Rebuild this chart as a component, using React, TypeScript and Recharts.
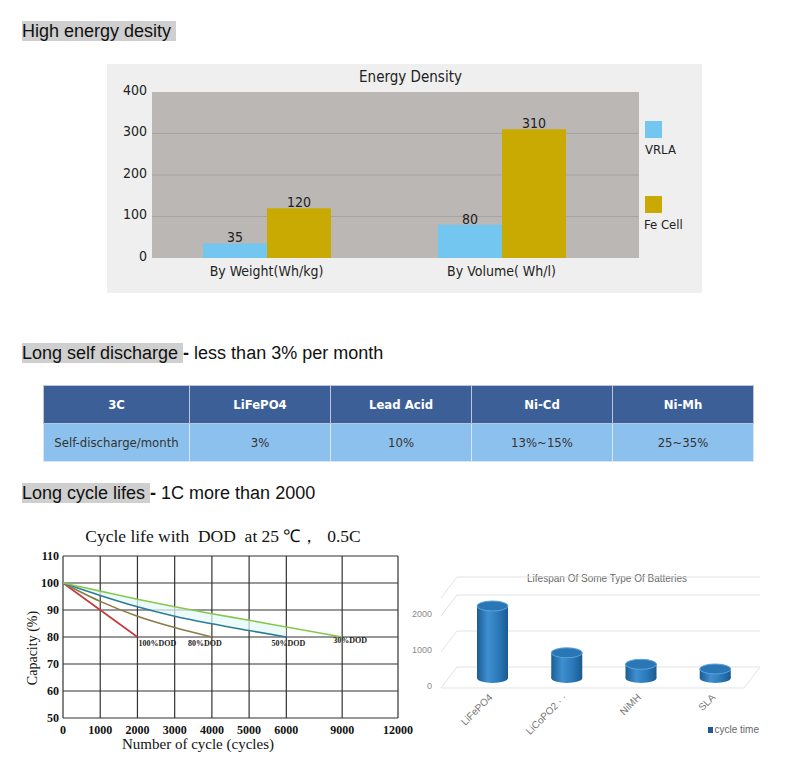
import React from 'react'
import {
  BarChart, Bar, ComposedChart, Line, Area, XAxis, YAxis, CartesianGrid, LabelList
} from 'recharts'

// energy density
const ENERGY_CATEGORIES = ['By Weight(Wh/kg)', 'By Volume( Wh/l)']
const VRLA_VALUES = [35, 80]
const FE_CELL_VALUES = [120, 310]
const ENERGY_TICKS = [0, 100, 200, 300, 400]

// self discharge table
const TABLE_HEAD = ['3C', 'LiFePO4', 'Lead Acid', 'Ni-Cd', 'Ni-Mh']
const TABLE_ROW = ['Self-discharge/month', '3%', '10%', '13%~15%', '25~35%']

// cycle life with DOD
const CYCLE_TICKS = [0, 1000, 2000, 3000, 4000, 5000, 6000, 9000, 12000]
const CAPACITY_TICKS = [50, 60, 70, 80, 90, 100, 110]
const DOD_LABELS = ['100%DOD', '80%DOD', '50%DOD', '30%DOD']
const DOD100_CYCLES = [0, 500, 1000, 1500, 2000]
const DOD100_CAPACITY = [100, 95, 90, 85, 80]
const DOD80_CYCLES = [0, 1000, 2000, 3000, 4000]
const DOD80_CAPACITY = [100, 93.2, 87.7, 83.5, 80]
const DOD50_CYCLES = [0, 1000, 2000, 3000, 4000, 5000, 6000]
const DOD50_CAPACITY = [100, 95.4, 91.2, 87.7, 84.9, 82.4, 80]
const DOD30_CYCLES = [0, 1000, 2000, 3000, 4000, 5000, 6000, 9000]
const DOD30_CAPACITY = [100, 97, 94, 91.2, 88.6, 86.2, 83.7, 80]

// lifespan
const BATTERIES = ['LiFePO4', 'LiCoPO2 · ·', 'NiMH', 'SLA']
const CYCLE_TIME = [2000, 700, 380, 250]
const LIFESPAN_TICKS = [0, 1000, 2000]

const CONDENSED = "'DejaVu Sans Condensed', 'DejaVu Sans', sans-serif"
const SERIF = "'Liberation Serif', 'Times New Roman', serif"
const ARIAL = "'Liberation Sans', Arial, sans-serif"

const energyData = ENERGY_CATEGORIES.map((name, i) => ({
  name, vrla: VRLA_VALUES[i], fe: FE_CELL_VALUES[i],
}))
const energySeries = [
  { key: 'vrla', name: 'VRLA', color: '#72c6ef' },
  { key: 'fe', name: 'Fe Cell', color: '#c9aa02' },
]

// the cycle axis is stretched: 0-6000 in steps of 1000, then 9000 and 12000 at 1.5 steps each
const xPos = (c: number) => (c <= 6000 ? c / 1000 : 6 + (c - 6000) / 2000)
const cycleTickPos = CYCLE_TICKS.map(xPos)
const toPoints = (cycles: number[], caps: number[]) =>
  cycles.map((c, i) => ({ x: xPos(c), cap: caps[i] }))

const dodSeries = [
  { data: toPoints(DOD100_CYCLES, DOD100_CAPACITY), color: '#c43a3a', label: DOD_LABELS[0], dx: 1, dy: 9, anchor: 'start' },
  { data: toPoints(DOD80_CYCLES, DOD80_CAPACITY), color: '#8a7b44', label: DOD_LABELS[1], dx: -7, dy: 9, anchor: 'middle' },
  { data: toPoints(DOD50_CYCLES, DOD50_CAPACITY), color: '#2c7b97', label: DOD_LABELS[2], dx: 2, dy: 9, anchor: 'middle' },
  { data: toPoints(DOD30_CYCLES, DOD30_CAPACITY), color: '#86c84f', label: DOD_LABELS[3], dx: 8, dy: 6, anchor: 'middle' },
]
// pale tint between the 50% and 30% curves (same cycle points up to 6000)
const bandData = DOD50_CYCLES.map((c, i) => ({ x: xPos(c), range: [DOD50_CAPACITY[i], DOD30_CAPACITY[i]] }))

const lifeData = BATTERIES.map((name, i) => ({ name, cycles: CYCLE_TIME[i] }))

function Cylinder(props: any) {
  const { x, y, width, height } = props
  const cx = x + width / 2
  const rx = width / 2
  const ry = 5
  return (
    <g>
      <ellipse cx={cx} cy={y + height} rx={rx} ry={ry} fill="url(#cylSide)" />
      <rect x={x} y={y} width={width} height={height} fill="url(#cylSide)" />
      <ellipse cx={cx} cy={y} rx={rx} ry={ry} fill="#2b77b5" stroke="#5ca4dc" strokeWidth={1} />
    </g>
  )
}

// faint 3d box: front edge, side wall and back wall
const boxLine = (p: any) => {
  const { x1, x2, y1, index } = p
  const front = y1 + 10
  const back = y1 - 11
  const pts = index === 0
    ? `${x1 + 2},${back} ${x2 + 8},${back} ${x2 - 8},${front} ${x1 - 14},${front} ${x1 + 2},${back}`
    : `${x1 - 14},${front} ${x1 + 2},${back} ${x2 + 8},${back}`
  return <polyline key={`box-${index}`} points={pts} fill="none" stroke="#e3e3e3" strokeWidth={1} />
}

const lifeTick = (p: any) => (
  <text x={p.x - 23} y={p.y + 11} textAnchor="end" fontSize={9} fill="#8a8a8a" fontFamily={ARIAL}>
    {p.payload.value}
  </text>
)

const batteryTick = (p: any) => (
  <text transform={`translate(${p.x + 1},${p.y + 20}) rotate(-45)`} textAnchor="end" fontSize={10} fill="#777" fontFamily={ARIAL}>
    {p.payload.value}
  </text>
)

const dodLabel = (s: typeof dodSeries[number]) => (p: any) =>
  p.index === s.data.length - 1 ? (
    <text x={p.x + s.dx} y={p.y + s.dy} textAnchor={s.anchor} fontSize={8} fontWeight="bold" fill="#222" fontFamily={SERIF}>
      {s.label}
    </text>
  ) : null

const heading: React.CSSProperties = {
  position: 'absolute', left: 22, fontFamily: ARIAL, fontSize: 18, lineHeight: '20px',
  color: '#111', whiteSpace: 'pre',
}
const hl: React.CSSProperties = { background: '#cfcfcf' }

export default function App() {
  return (
    <div style={{ position: 'absolute', left: 0, top: 0, width: 805, height: 773, background: '#fff', overflow: 'hidden' }}>
      <div style={{ ...heading, top: 21 }}><span style={hl}>High energy desity </span></div>

      {/* Energy density */}
      <div style={{ position: 'absolute', left: 107, top: 64, width: 595, height: 229, background: '#efefef' }}>
        <div style={{ position: 'absolute', left: 0, width: 595, top: 4, textAlign: 'center', fontFamily: CONDENSED, fontSize: 15, color: '#222', paddingLeft: 12, boxSizing: 'border-box' }}>
          Energy Density
        </div>
        <BarChart width={595} height={229} data={energyData} margin={{ top: 28, right: 63, left: 0, bottom: 0 }} barGap={0} barSize={64}>
          <CartesianGrid fill="#bbb7b4" stroke="#a7a3a0" vertical={false} horizontalValues={[100, 200, 300]} />
          <XAxis dataKey="name" axisLine={false} tickLine={false} height={35} interval={0}
            padding={{ left: -3, right: 20 }}
            tick={{ fill: '#222', fontSize: 14, fontFamily: CONDENSED }} />
          <YAxis domain={[0, 400]} ticks={ENERGY_TICKS} width={45} axisLine={false} tickLine={false}
            tickSize={0} tickMargin={5} tick={{ fill: '#222', fontSize: 14, fontFamily: CONDENSED, dy: -2 }} />
          {energySeries.map((s) => (
            <Bar key={s.key} dataKey={s.key} name={s.name} fill={s.color} isAnimationActive={false}>
              <LabelList dataKey={s.key} position="top" offset={1} fill="#222" fontSize={14} fontFamily={CONDENSED} />
            </Bar>
          ))}
        </BarChart>
        {energySeries.map((s, i) => (
          <div key={s.key} style={{ position: 'absolute', left: 538, top: 57 + i * 75, fontFamily: CONDENSED, fontSize: 13, color: '#222' }}>
            <div style={{ width: 17, height: 17, background: s.color }} />
            <div style={{ marginTop: 4, marginLeft: s.key === 'fe' ? -1 : 0 }}>{s.name}</div>
          </div>
        ))}
      </div>

      <div style={{ ...heading, top: 343 }}>
        <span style={hl}>Long self discharge </span><b>-</b> less than 3% per month
      </div>

      {/* Self discharge table */}
      <table style={{ position: 'absolute', left: 43, top: 385, width: 710, borderCollapse: 'collapse', tableLayout: 'fixed' }}>
        <colgroup>
          <col style={{ width: 146 }} />
          <col style={{ width: 141 }} />
          <col style={{ width: 141 }} />
          <col style={{ width: 141 }} />
          <col style={{ width: 141 }} />
        </colgroup>
        <tbody>
          <tr style={{ height: 38, background: '#3c5f98' }}>
            {TABLE_HEAD.map((h) => (
              <td key={h} style={{ border: '1px solid #b9c6dc', color: '#fff', fontWeight: 'bold', fontFamily: CONDENSED, fontSize: 13, textAlign: 'center', padding: 0 }}>{h}</td>
            ))}
          </tr>
          <tr style={{ height: 38, background: '#8dc1ed' }}>
            {TABLE_ROW.map((c) => (
              <td key={c} style={{ border: '1px solid #d6e6f6', color: '#333', fontFamily: CONDENSED, fontSize: 13, textAlign: 'center', padding: 0 }}>{c}</td>
            ))}
          </tr>
        </tbody>
      </table>

      <div style={{ ...heading, top: 483 }}>
        <span style={hl}>Long cycle lifes </span><b>-</b> 1C more than 2000
      </div>

      {/* Cycle life with DOD */}
      <div style={{ position: 'absolute', left: 0, top: 520, width: 425, height: 250 }}>
        <div style={{ position: 'absolute', left: 0, width: 446, top: 6, textAlign: 'center', fontFamily: SERIF, fontSize: 17.5, lineHeight: '20px', color: '#111', whiteSpace: 'pre' }}>
          {'Cycle life with  DOD  at 25 ℃，  0.5C'}
        </div>
        <ComposedChart width={425} height={250} margin={{ top: 36, right: 27, left: 0, bottom: 0 }}>
          <CartesianGrid stroke="#333" strokeWidth={1.2} />
          <XAxis type="number" dataKey="x" domain={[0, 9]} ticks={cycleTickPos} height={52}
            axisLine={false} tickLine={false} tickSize={0} tickMargin={7} interval={0}
            tickFormatter={(v) => String(CYCLE_TICKS[cycleTickPos.indexOf(v)])}
            tick={{ fill: '#111', fontSize: 12, fontWeight: 'bold', fontFamily: SERIF }} />
          <YAxis type="number" domain={[50, 110]} ticks={CAPACITY_TICKS} width={63}
            axisLine={false} tickLine={false} tickSize={0} tickMargin={4}
            tick={{ fill: '#111', fontSize: 12, fontWeight: 'bold', fontFamily: SERIF }} />
          <Area data={bandData} dataKey="range" type="monotone" stroke="none" fill="#e6f8f8" fillOpacity={0.7} isAnimationActive={false} />
          {dodSeries.map((s) => (
            <Line key={s.label} data={s.data} dataKey="cap" type="monotone" stroke={s.color} strokeWidth={1.6}
              dot={false} isAnimationActive={false} label={dodLabel(s)} />
          ))}
        </ComposedChart>
        <div style={{ position: 'absolute', left: 78, width: 240, top: 215, textAlign: 'center', fontFamily: SERIF, fontSize: 15, lineHeight: '18px', color: '#111' }}>
          Number of cycle (cycles)
        </div>
        <div style={{ position: 'absolute', left: -27, width: 120, top: 119, textAlign: 'center', fontFamily: SERIF, fontSize: 14, lineHeight: '18px', color: '#111', transform: 'rotate(-90deg)' }}>
          Capacity (%)
        </div>
      </div>

      {/* Lifespan cylinders */}
      <div style={{ position: 'absolute', left: 400, top: 560, width: 380, height: 190 }}>
        <div style={{ position: 'absolute', left: 0, width: 414, top: 13, textAlign: 'center', fontFamily: ARIAL, fontSize: 10, color: '#666' }}>
          Lifespan Of Some Type Of Batteries
        </div>
        <BarChart width={380} height={190} data={lifeData} margin={{ top: 28, right: 28, left: 0, bottom: 0 }}>
          <defs>
            <linearGradient id="cylSide" x1="0" y1="0" x2="1" y2="0">
              <stop offset="0%" stopColor="#1b5d95" />
              <stop offset="35%" stopColor="#3f8fd0" />
              <stop offset="70%" stopColor="#2a78b8" />
              <stop offset="100%" stopColor="#1a5a90" />
            </linearGradient>
          </defs>
          <CartesianGrid vertical={false} horizontal={boxLine} />
          <XAxis dataKey="name" height={72} axisLine={false} tickLine={false} tickSize={0} tickMargin={0} interval={0} tick={batteryTick} />
          <YAxis domain={[0, 2500]} ticks={LIFESPAN_TICKS} width={55} axisLine={false} tickLine={false} tickSize={0} tickMargin={0} tick={lifeTick} />
          <Bar dataKey="cycles" name="cycle time" barSize={31} shape={<Cylinder />} isAnimationActive={false} />
        </BarChart>
        <div style={{ position: 'absolute', left: 308, top: 164, fontFamily: ARIAL, fontSize: 10, color: '#666', display: 'flex', alignItems: 'center' }}>
          <span style={{ width: 5, height: 6, background: '#1f5a8a', marginRight: 1.5, display: 'inline-block' }} />cycle time
        </div>
      </div>
    </div>
  )
}
